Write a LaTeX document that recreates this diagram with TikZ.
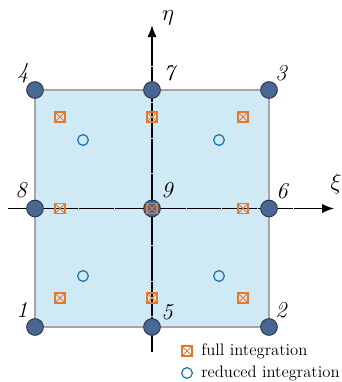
\documentclass[tikz,border=0pt]{standalone}
\usetikzlibrary{arrows.meta}
\definecolor{elemfill}{RGB}{208,234,245}
\definecolor{elemedge}{RGB}{165,165,165}
\definecolor{nodefill}{RGB}{74,103,148}
\definecolor{nodeedge}{RGB}{40,52,72}
\definecolor{fullc}{RGB}{228,122,48}
\definecolor{redc}{RGB}{22,112,170}
\tikzset{
  corner/.style={circle, fill=nodefill, draw=nodeedge, line width=0.7pt, minimum size=12.5pt, inner sep=0pt},
  fullpt/.style={rectangle, draw=fullc, line width=0.85pt, minimum size=7.5pt, inner sep=0pt,
    path picture={\draw[fullc, line width=0.7pt] (path picture bounding box.south west) -- (path picture bounding box.north east)
      (path picture bounding box.north west) -- (path picture bounding box.south east);}},
  redpt/.style={circle, draw=redc, line width=0.9pt, minimum size=8pt, inner sep=0pt},
  numlab/.style={font=\fontsize{17}{20}\selectfont\itshape, inner sep=0pt},
  axislab/.style={font=\fontsize{19}{22}\selectfont, inner sep=0pt},
  legtext/.style={font=\fontsize{12.5}{15}\selectfont, anchor=west, inner sep=0pt},
  axisline/.style={black, dash pattern=on 26pt off 0.8pt, -{Latex[length=9pt,width=7pt]}}
}
\begin{document}
\begin{tikzpicture}[x=0.75pt,y=-0.75pt]
\useasboundingbox (0,0) rectangle (342,382);
% element
\draw[elemedge, fill=elemfill, line width=2.2pt] (35,90) rectangle (269,327);
% axes
\coordinate (xs) at (8,208.5);
\coordinate (xe) at (334,208.5);
\coordinate (ys) at (152,352);
\coordinate (ye) at (152,25);
\draw[axisline, line width=0.9pt] (xs) -- (xe);
\draw[axisline, line width=1.5pt] (ys) -- (ye);
\node[axislab] (eta) at (168,18) {$\eta$};
\node[axislab] (xi) at (336,184) {$\xi$};
% reduced integration points
\node[redpt] (r1) at (83,140) {};
\node[redpt] (r2) at (219,140) {};
\node[redpt] (r3) at (83,276) {};
\node[redpt] (r4) at (219,276) {};
% corner / mid nodes
\node[corner] (n1) at (35,327) {};
\node[corner] (n2) at (269,327) {};
\node[corner] (n3) at (269,90) {};
\node[corner] (n4) at (35,90) {};
\node[corner] (n5) at (152,327) {};
\node[corner] (n6) at (269,208.5) {};
\node[corner] (n7) at (152,90) {};
\node[corner] (n8) at (35,208.5) {};
\node[corner] (n9) at (152,208.5) {};
% full integration points
\node[fullpt] (f1) at (60,117) {};
\node[fullpt] (f2) at (152,117) {};
\node[fullpt] (f3) at (243,117) {};
\node[fullpt] (f4) at (60,208.5) {};
\node[fullpt] (f5) at (152,208.5) {};
\node[fullpt] (f6) at (243,208.5) {};
\node[fullpt] (f7) at (60,298) {};
\node[fullpt] (f8) at (152,298) {};
\node[fullpt] (f9) at (243,298) {};
% labels
\node[numlab] (l4) at (23,73) {4};
\node[numlab] (l7) at (169,73) {7};
\node[numlab] (l3) at (281,73) {3};
\node[numlab] (l8) at (21,190) {8};
\node[numlab] (l9) at (167,190) {9};
\node[numlab] (l6) at (282,191) {6};
\node[numlab] (l1) at (22,310) {1};
\node[numlab] (l5) at (167,312) {5};
\node[numlab] (l2) at (281,310) {2};
% legend
\node[fullpt] (legf) at (187,351) {};
\node[legtext] (legft) at (201,351) {full integration};
\node[redpt] (legr) at (187,373) {};
\node[legtext] (legrt) at (201,373) {reduced integration};
\end{tikzpicture}
\end{document}
